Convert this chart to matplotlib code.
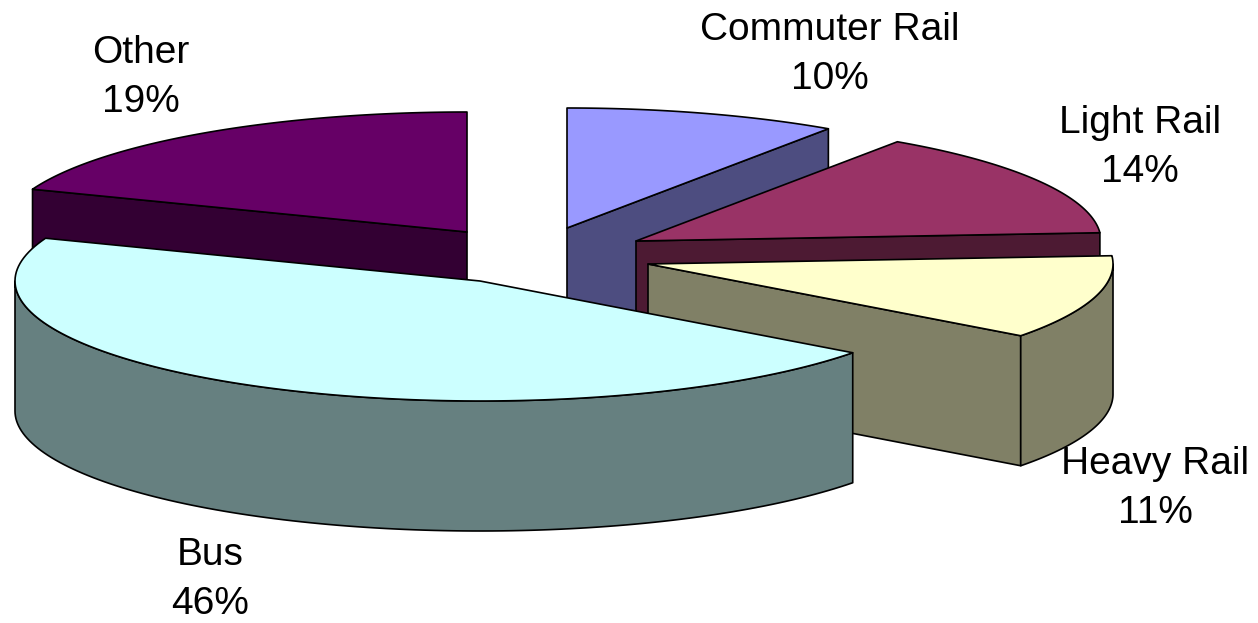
import numpy as np
import matplotlib
matplotlib.use("Agg")
import matplotlib.pyplot as plt
from matplotlib.patches import Polygon

plt.rcParams['font.family'] = ['Liberation Sans', 'DejaVu Sans']

# clockwise from 12 o'clock, unrounded shares
labels = ["Commuter Rail", "Light Rail", "Heavy Rail", "Bus", "Other"]
shares = [9.5, 14.4, 11.3, 45.6, 19.2]

tops = ["#9999FF", "#993366", "#FFFFCC", "#CCFFFF", "#660066"]
sides = ["#4D4D80", "#4D1A33", "#808066", "#668080", "#330033"]

# where each exploded slice's tip sits, in pixels
tips = [(567, 228), (636, 241), (648, 264), (480, 281), (467, 232)]
# x centre and baseline of the percent line
label_pos = [(830, 89), (1140, 182), (1155, 523), (210, 614), (141, 112)]
rx, ry, depth = 465, 120, 130

fig = plt.figure(figsize=(12.58, 6.23), dpi=100)
ax = fig.add_axes([0, 0, 1, 1])
ax.set_xlim(0, 1258)
ax.set_ylim(623, 0)
ax.axis("off")


def arc(tip, a0, a1):
    t = np.radians(np.linspace(a0, a1, 120))
    return np.column_stack([tip[0] + rx * np.cos(t), tip[1] - ry * np.sin(t)])


def face(pts, color, z):
    ax.add_patch(Polygon(pts, closed=True, facecolor=color, edgecolor="black", lw=1.2,
                         joinstyle="round", zorder=z))


def facing_viewer(angle):
    return np.sin(np.radians(angle)) < -1e-6


edges = 90 - np.cumsum([0] + shares) * 3.6
down = np.array([0, depth])
order = [4, 0, 1, 2, 3]  # back to front
for z, i in enumerate(order):
    a0, a1 = edges[i], edges[i + 1]
    tip = np.array(tips[i], dtype=float)
    rim = arc(tip, a0, a1)
    # cut faces, only the ones turned towards the viewer
    if facing_viewer(a0 + 90):
        face([tip, rim[0], rim[0] + down, tip + down], sides[i], z * 3 + 1)
    if facing_viewer(a1 - 90):
        face([tip, rim[-1], rim[-1] + down, tip + down], sides[i], z * 3 + 1)
    # outer wall, front half of the ellipse only
    w0, w1 = min(a0, 0), max(a1, -180)
    if w0 > w1:
        wall = arc(tip, w0, w1)
        face(np.vstack([wall, (wall + down)[::-1]]), sides[i], z * 3 + 2)
    face(np.vstack([[tip], rim]), tops[i], z * 3 + 3)

for i, name in enumerate(labels):
    ax.text(label_pos[i][0], label_pos[i][1], f"{name}\n{round(shares[i])}%", ha="center", va="baseline",
            fontsize=28, color="black", linespacing=1.47, zorder=50)

fig.savefig("out.png", dpi=100)
